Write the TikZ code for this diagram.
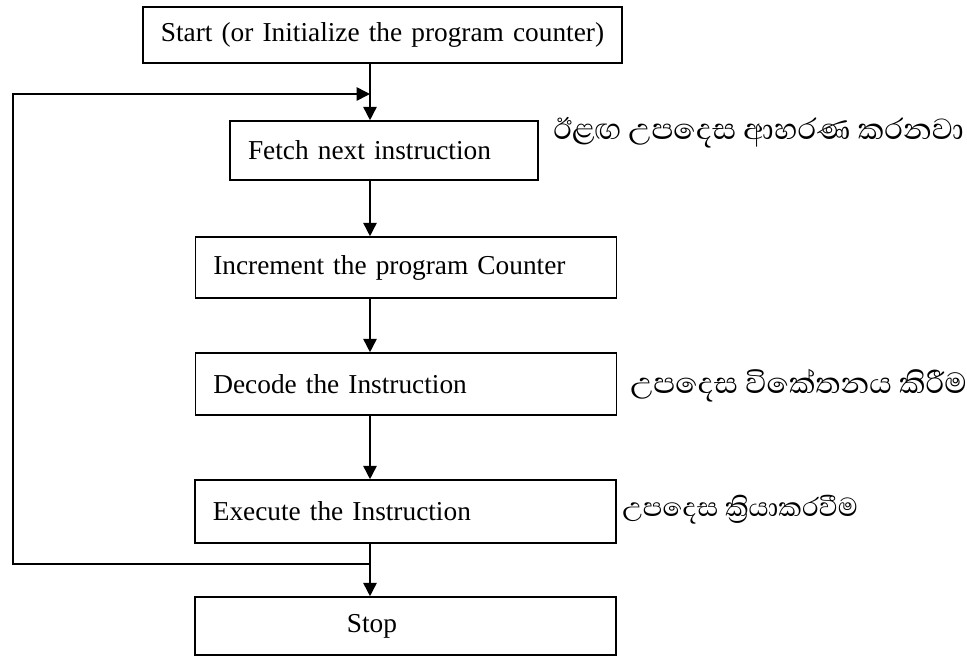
\documentclass[tikz,border=0pt]{standalone}
\usepackage{fontspec}
\setmainfont{Liberation Serif}
\newfontfamily\sinhalafont[Script=Sinhala]{Abhaya Libre}
\usetikzlibrary{arrows.meta}
\tikzset{
  box/.style={draw, line width=1.2pt, rectangle, inner xsep=13.5pt, inner ysep=0pt, align=left, text width=289pt, font=\fontsize{20.5}{24}\selectfont},
  note/.style={anchor=west, inner sep=0pt, font=\sinhalafont\fontsize{28}{32}\selectfont},
  flow/.style={line width=1.2pt, -{Triangle[length=10pt,width=10pt]}},
}
\begin{document}
\begin{tikzpicture}[x=0.75pt,y=-0.75pt]
            \useasboundingbox (0,0) rectangle (967,658);
            % boxes of the cycle
            \node[box, align=center, inner xsep=4.5pt, text width=350pt, minimum height=42pt] (start) at (382.5,35) {Start (or Initialize the program counter)};
            \node[box, text width=204pt, minimum height=44.25pt] (fetch) at (384,150.5) {Fetch next instruction};
            \node[box, minimum height=45.75pt] (incr) at (406,267.5) {Increment the program Counter};
            \node[box, minimum height=46.5pt] (decode) at (406,384) {Decode the Instruction};
            \node[box, minimum height=47.25pt] (exec) at (405.5,511.5) {Execute the Instruction};
            \node[box, minimum height=43.5pt] (stop) at (405.5,626) {\hspace*{100.5pt}Stop};
            % hand-written notes
            \node[note] (fetchnote) at (553,133) {ඊළඟ උපදෙස ආහරණ කරනවා};
            \node[note] (decodenote) at (630,386) {උපදෙස විකේතනය කිරීම};
            \node[note, font=\sinhalafont\fontsize{25}{29}\selectfont] (execnote) at (622,510) {උපදෙස ක්‍රියාකරවීම};
            % spine and loop back
            \coordinate (spine) at (370,0);
            \coordinate (loopB) at (370,564);
            \coordinate (loopL) at (13,94);
            \coordinate (loopT) at (370,94);
            \draw[flow] (start.south -| spine) -- (fetch.north -| spine);
            \draw[flow] (fetch.south -| spine) -- (incr.north -| spine);
            \draw[flow] (incr.south -| spine) -- (decode.north -| spine);
            \draw[flow] (decode.south -| spine) -- (exec.north -| spine);
            \draw[flow] (exec.south -| spine) -- (stop.north -| spine);
            \draw[flow] (loopB) -| (loopL) -- (loopT);
        \end{tikzpicture}
\end{document}
